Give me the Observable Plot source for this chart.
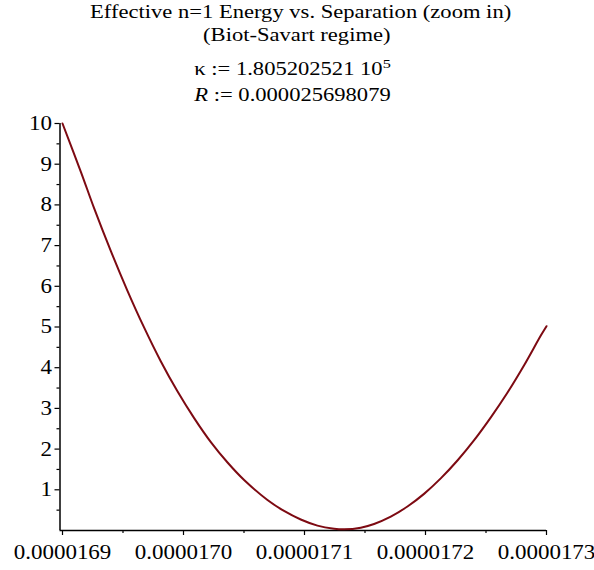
<!DOCTYPE html>
<html>
<head>
<meta charset="utf-8">
<script src="https://cdn.jsdelivr.net/npm/d3@7"></script>
<script src="https://cdn.jsdelivr.net/npm/@observablehq/plot@0.6"></script>
<style>
  html, body { margin: 0; padding: 0; background: #fff; }
  #wrap { position: relative; width: 594px; height: 570px; overflow: hidden; }
  #titles { position: relative; width: 594px; height: 110px; font-family: "Liberation Serif", "Times New Roman", serif; color: #000; }
  .tl { position: absolute; left: 0; width: 594px; text-align: center; font-size: 18.5px; line-height: 18.5px; white-space: nowrap; }
  .tl span.s { display: inline-block; transform: scaleX(1.22); transform-origin: center; }
  sup { font-size: 0.72em; vertical-align: 0.55em; line-height: 0; }
</style>
</head>
<body>
<div id="wrap">
  <div id="titles">
    <div class="tl" style="top:3px;left:4px"><span class="s">Effective n=1 Energy vs. Separation (zoom in)</span></div>
    <div class="tl" style="top:26px"><span class="s">(Biot-Savart regime)</span></div>
    <div class="tl" style="top:59.5px;left:-4px"><span class="s">κ := 1.805202521 10<sup>5</sup></span></div>
    <div class="tl" style="top:86px;left:-4px"><span class="s"><i>R</i> := 0.000025698079</span></div>
  </div>
  <div id="chart"></div>
</div>
<script>
// Separation values
const separation = [
  0.0000169000, 0.0000169151, 0.0000169261, 0.0000169399, 0.0000169537,
  0.0000169674, 0.0000169812, 0.0000169950, 0.0000170088, 0.0000170226,
  0.0000170364, 0.0000170501, 0.0000170694, 0.0000170831,
  0.0000170969, 0.0000171107, 0.0000171245, 0.0000171327, 0.0000171465,
  0.0000171575, 0.0000171713, 0.0000171851, 0.0000171988, 0.0000172126,
  0.0000172264, 0.0000172402, 0.0000172540, 0.0000172678, 0.0000172815,
  0.0000172953, 0.0000173000
];
// Effective energy values
const energy = [
  10.00, 8.82, 7.92, 6.87, 5.89,
  4.99, 4.16, 3.42, 2.76, 2.17,
  1.67, 1.24, 0.75, 0.48,
  0.27, 0.12, 0.045, 0.03, 0.07,
  0.16, 0.34, 0.59, 0.90, 1.28,
  1.72, 2.22, 2.78, 3.39, 4.06,
  4.79, 5.02
];
const xTicks = [0.0000169, 0.0000170, 0.0000171, 0.0000172, 0.0000173];
const xMinorTicks = [0.00001695, 0.00001705, 0.00001715, 0.00001725];
const yTicks = [1, 2, 3, 4, 5, 6, 7, 8, 9, 10];
const yMinorTicks = [0.5, 1.5, 2.5, 3.5, 4.5, 5.5, 6.5, 7.5, 8.5, 9.5];
const xDomain = [0.0000169, 0.0000173];
const yDomain = [0, 10];

const data = separation.map((s, i) => ({s, e: energy[i]}));
const curveColor = "#7d0a12";

const chart = Plot.plot({
  width: 594,
  height: 460,
  marginTop: 13,
  marginBottom: 40,
  marginLeft: 62,
  marginRight: 48,
  style: {fontFamily: "'Liberation Serif', 'Times New Roman', serif", fontSize: "20px", color: "#000", background: "#fff", overflow: "visible"},
  x: {domain: xDomain},
  y: {domain: yDomain},
  marks: [
    Plot.axisX({ticks: xTicks, tickSize: 5, tickPadding: 9, tickFormat: d3.format(".7f"), label: null, stroke: "#000", strokeWidth: 1.2}),
    Plot.axisX({ticks: xMinorTicks, tickSize: 3, tickFormat: () => "", label: null, stroke: "#000", strokeWidth: 1.2}),
    Plot.axisY({ticks: yTicks, tickSize: 5, tickPadding: 3, dx: -2.5, tickFormat: d3.format("d"), label: null, stroke: "#000", strokeWidth: 1.2}),
    Plot.axisY({ticks: yMinorTicks, tickSize: 3, dx: -2.5, tickFormat: () => "", label: null, stroke: "#000", strokeWidth: 1.2}),
    Plot.ruleY([0], {stroke: "#000", strokeWidth: 1.5, insetLeft: -2.5}),
    Plot.ruleX([xDomain[0]], {y1: yDomain[0], y2: yDomain[1], dx: -2.5, stroke: "#000", strokeWidth: 1.5}),
    Plot.line(data, {x: "s", y: "e", stroke: curveColor, strokeWidth: 2, curve: "catmull-rom"})
  ]
});
document.getElementById("chart").appendChild(chart);

// stretch tick labels horizontally to match the reference's wide glyphs
chart.querySelectorAll('g[aria-label$="tick label"] text').forEach(t => {
  const tr = t.getAttribute("transform") || "";
  t.setAttribute("transform", tr + " scale(1.15,1)");
});
</script>
</body>
</html>
